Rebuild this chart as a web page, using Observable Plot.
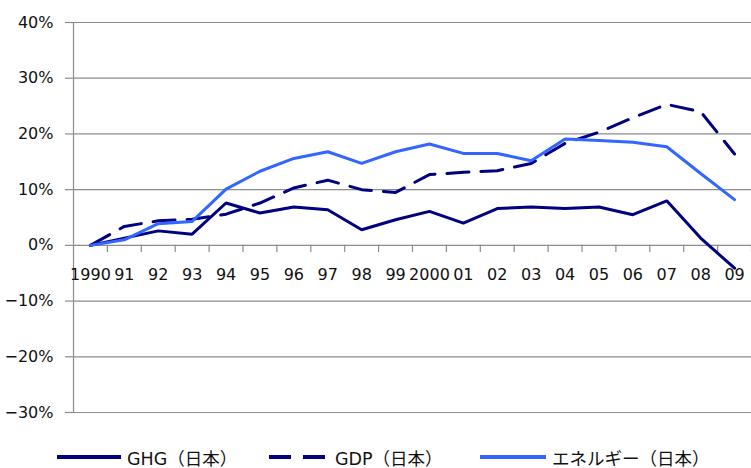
<!DOCTYPE html>
<html><head><meta charset="utf-8">
<script src="https://cdn.jsdelivr.net/npm/d3@7"></script>
<script src="https://cdn.jsdelivr.net/npm/@observablehq/plot@0.6"></script>
<style>
body{margin:0;background:#fff;font-family:"DejaVu Sans","Noto Sans CJK JP",sans-serif;}
#wrap{width:751px;height:468px;position:relative;overflow:hidden;}
#legend{position:absolute;left:0;top:432px;width:751px;height:36px;font-size:17.5px;color:#111;}
.item{position:absolute;top:14px;display:flex;align-items:center;height:22px;}
.item svg{margin-right:6px;}
</style></head>
<body><div id="wrap"><div id="chart"></div><div id="legend"></div></div>
<script>
const years = [1990,1991,1992,1993,1994,1995,1996,1997,1998,1999,2000,2001,2002,2003,2004,2005,2006,2007,2008,2009];
const yearLabels = ["1990","91","92","93","94","95","96","97","98","99","2000","01","02","03","04","05","06","07","08","09"];
const ghg = [0,1.3,2.6,2.0,7.6,5.8,6.9,6.4,2.8,4.6,6.1,4.0,6.6,6.9,6.6,6.9,5.5,8.0,1.3,-4.1];
const gdp = [0,3.4,4.4,4.7,5.6,7.6,10.3,11.7,10.0,9.5,12.7,13.1,13.4,14.7,18.3,20.3,22.9,25.3,24.0,16.4];
const energy = [0,1.0,3.9,4.3,10.1,13.3,15.6,16.8,14.7,16.8,18.2,16.5,16.5,15.2,19.1,18.8,18.5,17.7,12.9,8.2];
const seriesNames = ["GHG（日本）","GDP（日本）","エネルギー（日本）"];
const colors = ["#000080","#000080","#3366ff"];
const dashes = [null,"22,12",null];
const yTicks = [-30,-20,-10,0,10,20,30,40];
const boundaries = years.map(y => y - 0.5).concat([2009.5]);

const rows = [];
[ghg,gdp,energy].forEach((arr,i)=>arr.forEach((v,j)=>rows.push({series:seriesNames[i],year:years[j],value:v,idx:i})));

const fmt = d => (d < 0 ? "−" + Math.abs(d) : d) + "%";

const chart = Plot.plot({
  width: 751, height: 432,
  marginLeft: 73, marginRight: 0, marginTop: 22, marginBottom: 20,
  style: {fontFamily: '"DejaVu Sans","Noto Sans CJK JP",sans-serif', fontSize: "16px", color: "#111", background: "#fff"},
  x: {domain: [1989.5, 2009.5], axis: null},
  y: {domain: [-30, 40], axis: null},
  marks: [
    Plot.ruleY(yTicks, {stroke: "#8c8c8c", strokeWidth: 1.2}),
    Plot.ruleX([1989.5], {stroke: "#8c8c8c", strokeWidth: 1.2, y1: -30, y2: 40}),
    Plot.axisY({ticks: yTicks, tickFormat: fmt, tickSize: 8, tickPadding: 12, stroke: "#8c8c8c", strokeWidth: 1.2, fontSize: 16, label: null}),
    Plot.ruleX(boundaries.slice(1), {y1: 0, y2: -1.3, stroke: "#8c8c8c", strokeWidth: 1.2}),
    Plot.text(years, {x: d => d, y: 0, text: (d,i) => yearLabels[i], dy: 30, fontSize: 16, fill: "#111"}),
    ...[0,1,2].map(i => Plot.line(rows.filter(r => r.idx === i), {x: "year", y: "value", stroke: colors[i], strokeWidth: 3, strokeDasharray: dashes[i], strokeLinejoin: "miter"}))
  ]
});
document.getElementById("chart").appendChild(chart);

const legend = document.getElementById("legend");
const lx = [57, 269, 480];
const lw = [64, 60, 66];
seriesNames.forEach((name,i)=>{
  const d = document.createElement("div");
  d.className = "item";
  d.style.left = lx[i] + "px";
  d.innerHTML = `<svg width="${lw[i]}" height="6"><line x1="0" y1="3" x2="${lw[i]}" y2="3" stroke="${colors[i]}" stroke-width="4" ${dashes[i] ? `stroke-dasharray="${dashes[i]}"` : ""}/></svg><span>${name}</span>`;
  legend.appendChild(d);
});
</script></body></html>
